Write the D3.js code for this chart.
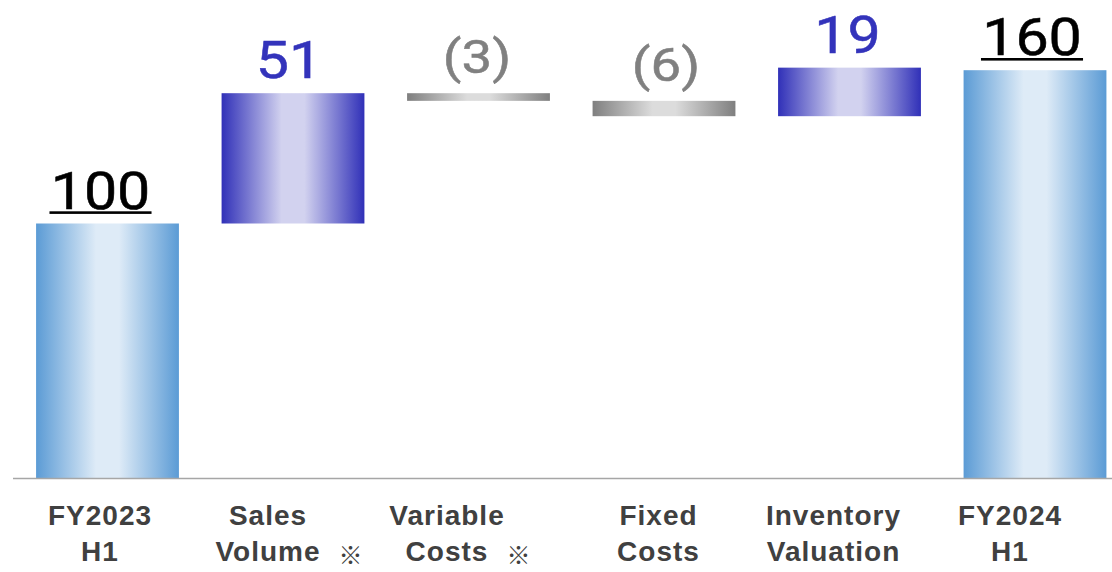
<!DOCTYPE html>
<html>
<head>
<meta charset="utf-8">
<script src="https://cdn.jsdelivr.net/npm/d3@7"></script>
<style>
  html, body { margin: 0; padding: 0; background: #ffffff; }
  svg { display: block; }
</style>
</head>
<body>
<svg id="chart" width="1112" height="572"></svg>
<script>
// Operating profit bridge, indexed to FY2023 H1 = 100
const categories = ["FY2023 H1", "Sales Volume", "Variable Costs", "Fixed Costs", "Inventory Valuation", "FY2024 H1"];
const kinds = ["total", "delta", "delta", "delta", "delta", "total"];
const values = [100, 51, -3, -6, 19, 160];
const valueLabels = ["100", "51", "(3)", "(6)", "19", "160"];
const noteMarks = ["", "※", "※", "", "", ""];

const W = 1112, H = 572;
const svg = d3.select("#chart");

// running levels for the floating bars
let level = 0;
const bars = categories.map((c, i) => {
  let lo, hi;
  if (kinds[i] === "total") { lo = 0; hi = values[i]; level = values[i]; }
  else { const prev = level; level = prev + values[i]; lo = Math.min(prev, level); hi = Math.max(prev, level); }
  return { cat: c, kind: kinds[i], value: values[i], label: valueLabels[i], note: noteMarks[i], lo, hi, i };
});

const x = d3.scaleBand().domain(categories).range([14.75, 14.75 + 6 * 185.5]).paddingInner(0.23).paddingOuter(0.115);
const y = d3.scaleLinear().domain([0, 160]).range([479, 70.2]);

// horizontal gradients
const defs = svg.append("defs");
function grad(id, edge, mid) {
  const g = defs.append("linearGradient").attr("id", id).attr("x1", "0%").attr("x2", "100%").attr("y1", "0%").attr("y2", "0%");
  g.append("stop").attr("offset", "0%").attr("stop-color", edge);
  g.append("stop").attr("offset", "42%").attr("stop-color", mid);
  g.append("stop").attr("offset", "58%").attr("stop-color", mid);
  g.append("stop").attr("offset", "100%").attr("stop-color", edge);
}
grad("gTotal", "#5b9bd5", "#deebf7");
grad("gUp", "#3030b8", "#d2d2ef");
grad("gDown", "#7f7f7f", "#dcdcdc");

const fillFor = d => d.kind === "total" ? "url(#gTotal)" : (d.value >= 0 ? "url(#gUp)" : "url(#gDown)");
const colorFor = d => d.kind === "total" ? "#000000" : (d.value >= 0 ? "#3333bb" : "#808080");

svg.append("g").selectAll("rect").data(bars).join("rect")
  .attr("x", d => x(d.cat))
  .attr("width", x.bandwidth())
  .attr("y", d => y(d.hi))
  .attr("height", d => y(d.lo) - y(d.hi))
  .attr("fill", fillFor);

// baseline
svg.append("line")
  .attr("x1", 13).attr("x2", W)
  .attr("y1", y(0) - 0.5).attr("y2", y(0) - 0.5)
  .attr("stroke", "#a6a6a6").attr("stroke-width", 1.6);

// value labels (slightly widened numerals)
const valueNudge = [-7, -4, -1.5, 2, -2, -3];
const valueFont = "Roboto, 'Noto Sans', sans-serif";
const vl = svg.append("g").selectAll("g").data(bars).join("g")
  .attr("transform", d => {
    const cx = x(d.cat) + x.bandwidth() / 2 + valueNudge[d.i];
    const by = d.value < 0 ? y(d.hi) - 20 : y(d.hi) - 15;
    return `translate(${cx},${by}) scale(1.16,1)`;
  });
vl.append("text")
  .attr("x", 0).attr("y", 0)
  .attr("text-anchor", "middle")
  .attr("font-family", valueFont)
  .attr("font-weight", 400)
  .attr("font-size", d => d.value < 0 ? 47 : 51)
  .attr("fill", colorFor)
  .attr("stroke", colorFor)
  .attr("stroke-width", 0.5)
  .text(d => d.label)
  .each(function (d) {
    if (d.kind !== "total") return;
    const bb = this.getBBox();
    d3.select(this.parentNode).append("rect")
      .attr("x", bb.x - 1).attr("width", bb.width + 2)
      .attr("y", 2.8).attr("height", 2.6)
      .attr("fill", "#000000");
  });

// category labels (two lines, optional note mark)
const labelNudge = [-7.5, -25, -31.5, -5.5, -16, -25];
const catFont = "'Liberation Sans', Arial, sans-serif";
const cl = svg.append("g").selectAll("g").data(bars).join("g")
  .attr("transform", d => `translate(${x(d.cat) + x.bandwidth() / 2 + labelNudge[d.i]},0)`);
cl.each(function (d) {
  const lines = d.cat.split(" ");
  const g = d3.select(this);
  lines.forEach((ln, k) => {
    const t = g.append("text")
      .attr("x", 0).attr("y", 525 + k * 36)
      .attr("text-anchor", "middle")
      .attr("font-family", catFont)
      .attr("font-weight", 700)
      .attr("font-size", 28)
      .attr("letter-spacing", 1)
      .attr("fill", "#404040")
      .text(ln);
    if (k === lines.length - 1 && d.note) {
      const w = t.node().getComputedTextLength();
      g.append("text")
        .attr("x", w / 2 + 18).attr("y", 564)
        .attr("font-family", "'Noto Sans CJK JP', sans-serif")
        .attr("font-size", 24)
        .attr("fill", "#404040")
        .text(d.note);
    }
  });
});
</script>
</body>
</html>
